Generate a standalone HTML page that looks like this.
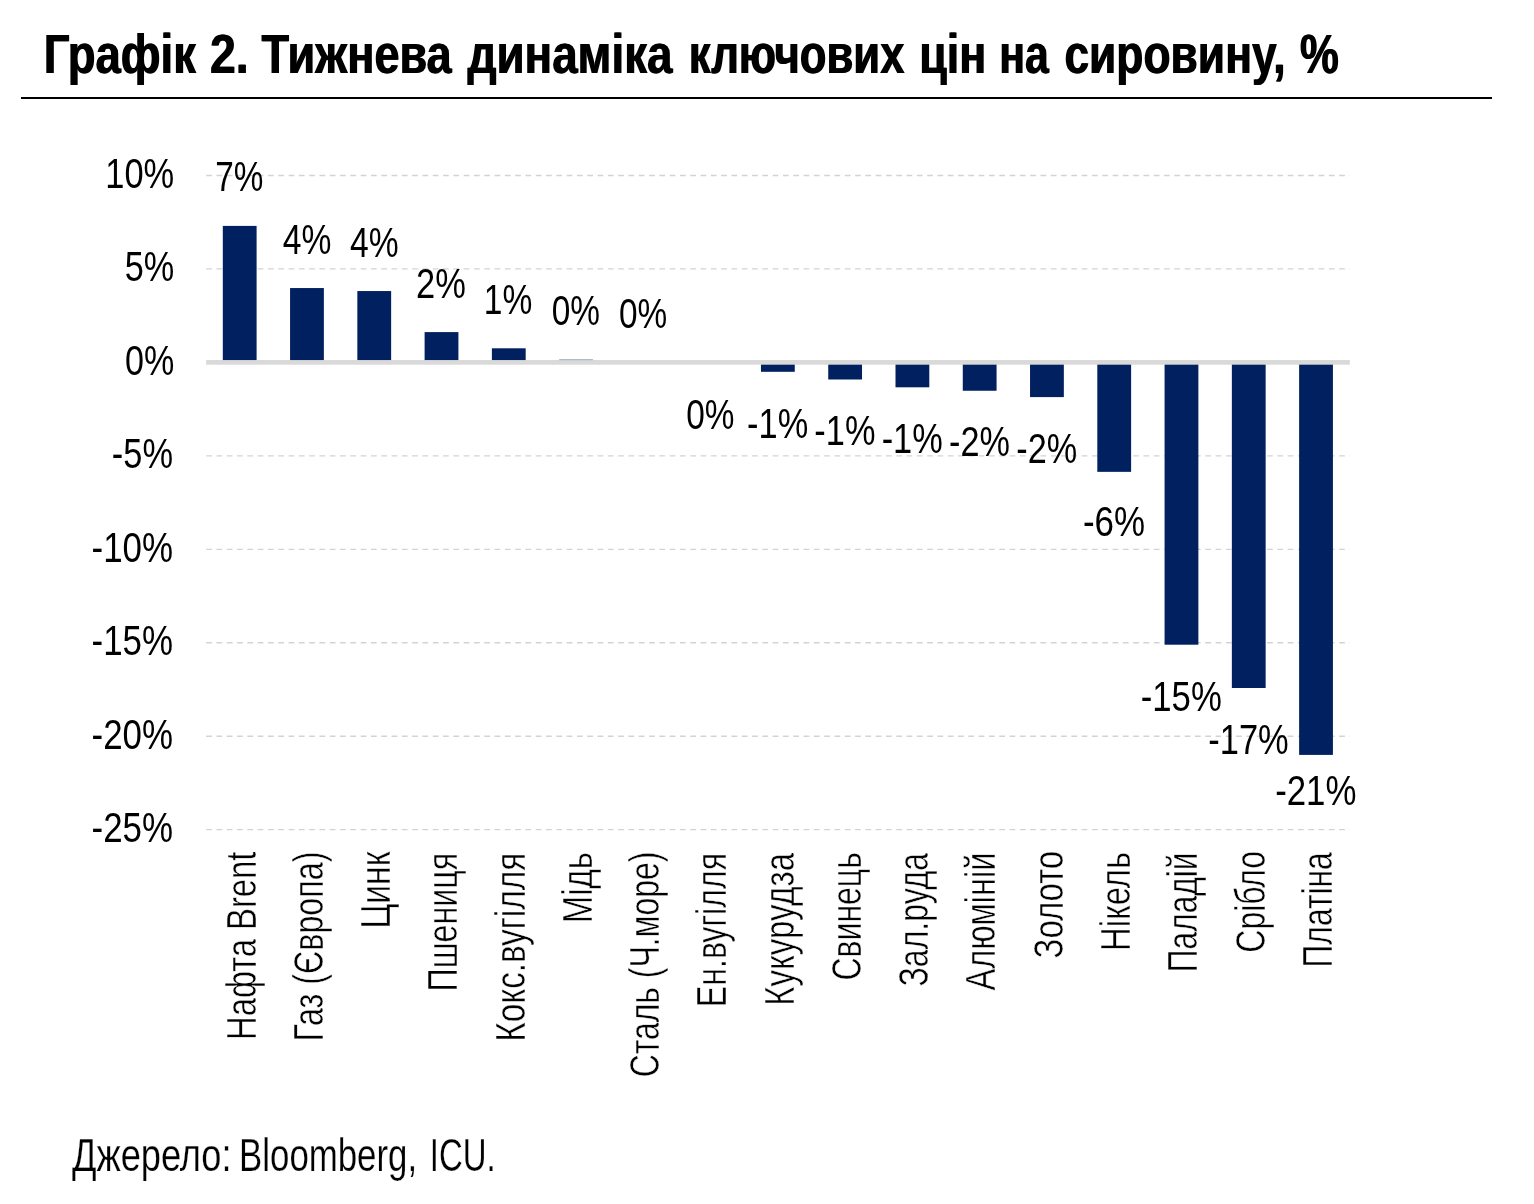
<!DOCTYPE html>
<html lang="uk"><head><meta charset="utf-8"><title>Графік 2</title>
<style>html,body{margin:0;padding:0;background:#fff}body{width:1534px;height:1204px;overflow:hidden}svg{display:block}</style>
</head><body>
<svg width="1534" height="1204" viewBox="0 0 1534 1204" font-family="Liberation Sans, Arial, sans-serif" fill="#000">
<rect width="1534" height="1204" fill="#fff"/>
<defs><filter id="bolder" x="-1%" y="-10%" width="102%" height="120%"><feOffset dx="0.8" dy="0" result="o"/><feMerge><feMergeNode in="SourceGraphic"/><feMergeNode in="o"/></feMerge></filter></defs>
<text y="72.8" font-size="55.7" font-weight="700" filter="url(#bolder)"><tspan x="43.16" textLength="152.35" lengthAdjust="spacingAndGlyphs">Графік</tspan> <tspan x="209.55" textLength="38.69" lengthAdjust="spacingAndGlyphs">2.</tspan> <tspan x="261.10" textLength="190.11" lengthAdjust="spacingAndGlyphs">Тижнева</tspan> <tspan x="466.90" textLength="205.11" lengthAdjust="spacingAndGlyphs">динаміка</tspan> <tspan x="688.27" textLength="215.65" lengthAdjust="spacingAndGlyphs">ключових</tspan> <tspan x="918.70" textLength="67.06" lengthAdjust="spacingAndGlyphs">цін</tspan> <tspan x="998.63" textLength="49.60" lengthAdjust="spacingAndGlyphs">на</tspan> <tspan x="1063.91" textLength="221.21" lengthAdjust="spacingAndGlyphs">сировину,</tspan> <tspan x="1299.62" textLength="38.80" lengthAdjust="spacingAndGlyphs">%</tspan></text>
<rect x="21" y="97" width="1471" height="2" fill="#000"/>
<line x1="206.17" x2="1349.8" y1="175.48" y2="175.48" stroke="#d3d3d3" stroke-width="1.33" stroke-dasharray="5.72 4.58"/>
<line x1="206.17" x2="1349.8" y1="268.94" y2="268.94" stroke="#d3d3d3" stroke-width="1.33" stroke-dasharray="5.72 4.58"/>
<line x1="206.17" x2="1349.8" y1="455.86" y2="455.86" stroke="#d3d3d3" stroke-width="1.33" stroke-dasharray="5.72 4.58"/>
<line x1="206.17" x2="1349.8" y1="549.32" y2="549.32" stroke="#d3d3d3" stroke-width="1.33" stroke-dasharray="5.72 4.58"/>
<line x1="206.17" x2="1349.8" y1="642.78" y2="642.78" stroke="#d3d3d3" stroke-width="1.33" stroke-dasharray="5.72 4.58"/>
<line x1="206.17" x2="1349.8" y1="736.24" y2="736.24" stroke="#d3d3d3" stroke-width="1.33" stroke-dasharray="5.72 4.58"/>
<line x1="206.17" x2="1349.8" y1="829.70" y2="829.70" stroke="#d3d3d3" stroke-width="1.33" stroke-dasharray="5.72 4.58"/>
<rect x="222.80" y="225.90" width="33.8" height="136.50" fill="#00205f"/>
<rect x="290.07" y="288.05" width="33.8" height="74.35" fill="#00205f"/>
<rect x="357.34" y="291.05" width="33.8" height="71.35" fill="#00205f"/>
<rect x="424.61" y="332.10" width="33.8" height="30.30" fill="#00205f"/>
<rect x="491.88" y="348.30" width="33.8" height="14.10" fill="#00205f"/>
<rect x="559.15" y="359.70" width="33.8" height="2.70" fill="#00205f"/>
<rect x="760.96" y="362.40" width="33.8" height="9.40" fill="#00205f"/>
<rect x="828.23" y="362.40" width="33.8" height="17.10" fill="#00205f"/>
<rect x="895.50" y="362.40" width="33.8" height="24.90" fill="#00205f"/>
<rect x="962.77" y="362.40" width="33.8" height="28.35" fill="#00205f"/>
<rect x="1030.04" y="362.40" width="33.8" height="34.70" fill="#00205f"/>
<rect x="1097.31" y="362.40" width="33.8" height="109.45" fill="#00205f"/>
<rect x="1164.58" y="362.40" width="33.8" height="282.30" fill="#00205f"/>
<rect x="1231.85" y="362.40" width="33.8" height="325.60" fill="#00205f"/>
<rect x="1299.12" y="362.40" width="33.8" height="392.50" fill="#00205f"/>
<rect x="206.17" y="360.05" width="1143.63" height="4.65" fill="#d9d9d9"/>
<text transform="translate(105.25,187.88) scale(0.7941,1)" font-size="43.4">10%</text>
<text transform="translate(124.68,281.34) scale(0.7898,1)" font-size="43.4">5%</text>
<text transform="translate(124.93,374.80) scale(0.7857,1)" font-size="43.4">0%</text>
<text transform="translate(111.82,468.26) scale(0.7930,1)" font-size="43.4">-5%</text>
<text transform="translate(91.51,561.72) scale(0.8047,1)" font-size="43.4">-10%</text>
<text transform="translate(91.51,655.18) scale(0.8047,1)" font-size="43.4">-15%</text>
<text transform="translate(91.51,748.64) scale(0.8047,1)" font-size="43.4">-20%</text>
<text transform="translate(91.51,842.10) scale(0.8047,1)" font-size="43.4">-25%</text>
<text transform="translate(215.14,191.00) scale(0.7677,1)" font-size="43.4">7%</text>
<text transform="translate(282.69,253.70) scale(0.7752,1)" font-size="43.4">4%</text>
<text transform="translate(349.96,256.70) scale(0.7752,1)" font-size="43.4">4%</text>
<text transform="translate(416.09,297.70) scale(0.7946,1)" font-size="43.4">2%</text>
<text transform="translate(483.78,313.60) scale(0.7731,1)" font-size="43.4">1%</text>
<text transform="translate(551.71,324.80) scale(0.7690,1)" font-size="43.4">0%</text>
<text transform="translate(618.98,327.60) scale(0.7690,1)" font-size="43.4">0%</text>
<text transform="translate(686.25,429.00) scale(0.7690,1)" font-size="43.4">0%</text>
<text transform="translate(747.09,437.70) scale(0.7916,1)" font-size="43.4">-1%</text>
<text transform="translate(814.36,445.00) scale(0.7916,1)" font-size="43.4">-1%</text>
<text transform="translate(881.63,452.80) scale(0.7916,1)" font-size="43.4">-1%</text>
<text transform="translate(949.00,456.10) scale(0.7889,1)" font-size="43.4">-2%</text>
<text transform="translate(1016.27,463.00) scale(0.7889,1)" font-size="43.4">-2%</text>
<text transform="translate(1082.92,536.20) scale(0.8050,1)" font-size="43.4">-6%</text>
<text transform="translate(1140.69,710.70) scale(0.8007,1)" font-size="43.4">-15%</text>
<text transform="translate(1208.27,754.00) scale(0.7946,1)" font-size="43.4">-17%</text>
<text transform="translate(1275.13,805.40) scale(0.8027,1)" font-size="43.4">-21%</text>
<text transform="translate(255.50,1039.96) rotate(-90) scale(0.7552,1)" font-size="43.4" stroke="#fff" stroke-width="0.5">Нафта Brent</text>
<text transform="translate(322.77,1041.62) rotate(-90) scale(0.7433,1)" font-size="43.4" stroke="#fff" stroke-width="0.5">Газ (Європа)</text>
<text transform="translate(390.04,928.85) rotate(-90) scale(0.7806,1)" font-size="43.4" stroke="#fff" stroke-width="0.5">Цинк</text>
<text transform="translate(457.31,991.42) rotate(-90) scale(0.7426,1)" font-size="43.4" stroke="#fff" stroke-width="0.5">Пшениця</text>
<text transform="translate(524.58,1041.70) rotate(-90) scale(0.7681,1)" font-size="43.4" stroke="#fff" stroke-width="0.5">Кокс.вугілля</text>
<text transform="translate(591.85,923.27) rotate(-90) scale(0.7594,1)" font-size="43.4" stroke="#fff" stroke-width="0.5">Мідь</text>
<text transform="translate(659.12,1077.30) rotate(-90) scale(0.7350,1)" font-size="43.4" stroke="#fff" stroke-width="0.5">Сталь (Ч.море)</text>
<text transform="translate(726.39,1007.21) rotate(-90) scale(0.7411,1)" font-size="43.4" stroke="#fff" stroke-width="0.5">Ен.вугілля</text>
<text transform="translate(793.66,1005.68) rotate(-90) scale(0.7603,1)" font-size="43.4" stroke="#fff" stroke-width="0.5">Кукурудза</text>
<text transform="translate(860.93,980.50) rotate(-90) scale(0.7369,1)" font-size="43.4" stroke="#fff" stroke-width="0.5">Свинець</text>
<text transform="translate(928.20,986.50) rotate(-90) scale(0.7377,1)" font-size="43.4" stroke="#fff" stroke-width="0.5">Зал.руда</text>
<text transform="translate(995.47,990.60) rotate(-90) scale(0.7520,1)" font-size="43.4" stroke="#fff" stroke-width="0.5">Алюміній</text>
<text transform="translate(1062.74,958.43) rotate(-90) scale(0.7586,1)" font-size="43.4" stroke="#fff" stroke-width="0.5">Золото</text>
<text transform="translate(1130.01,950.96) rotate(-90) scale(0.7549,1)" font-size="43.4" stroke="#fff" stroke-width="0.5">Нікель</text>
<text transform="translate(1197.28,972.18) rotate(-90) scale(0.7301,1)" font-size="43.4" stroke="#fff" stroke-width="0.5">Паладій</text>
<text transform="translate(1264.55,952.70) rotate(-90) scale(0.7385,1)" font-size="43.4" stroke="#fff" stroke-width="0.5">Срібло</text>
<text transform="translate(1331.82,967.48) rotate(-90) scale(0.7328,1)" font-size="43.4" stroke="#fff" stroke-width="0.5">Платіна</text>
<text y="1171.2" font-size="46.2" stroke="#fff" stroke-width="0.25"><tspan x="71.90" textLength="159.67" lengthAdjust="spacingAndGlyphs">Джерело:</tspan> <tspan x="239.08" textLength="178.02" lengthAdjust="spacingAndGlyphs">Bloomberg,</tspan> <tspan x="429.83" textLength="65.85" lengthAdjust="spacingAndGlyphs">ICU.</tspan></text>
</svg>
</body></html>
